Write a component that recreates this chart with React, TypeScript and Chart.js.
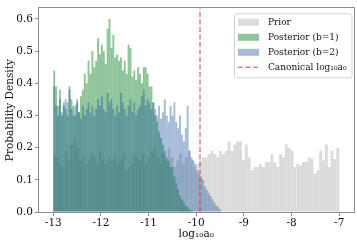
import React, { useEffect, useRef } from "react";
import { Chart, registerables } from "chart.js";

Chart.register(...registerables);

// ---- Data ----
const priorBinStart = -13;
const priorBinWidth = 0.06;
const priorDensity = [
  0.18, 0.17, 0.15, 0.14, 0.19, 0.16, 0.21, 0.22, 0.2, 0.16,
  0.17, 0.15, 0.16, 0.18, 0.17, 0.15, 0.19, 0.16, 0.15, 0.17,
  0.16, 0.17, 0.15, 0.16, 0.18, 0.13, 0.14, 0.15, 0.18, 0.17,
  0.16, 0.18, 0.15, 0.17, 0.19, 0.2, 0.17, 0.15, 0.18, 0.16,
  0.2, 0.17, 0.14, 0.16, 0.18, 0.15, 0.17, 0.19, 0.16, 0.14,
  0.15, 0.16, 0.17, 0.17, 0.18, 0.19, 0.18, 0.17, 0.19, 0.18,
  0.19, 0.22, 0.19, 0.21, 0.22, 0.22, 0.16, 0.21, 0.17, 0.13,
  0.14, 0.14, 0.15, 0.14, 0.155, 0.155, 0.18, 0.155, 0.14, 0.18,
  0.17, 0.21, 0.2, 0.19, 0.14, 0.15, 0.145, 0.155, 0.155, 0.17,
  0.165, 0.12, 0.13, 0.19, 0.16, 0.21, 0.14, 0.19, 0.165, 0.2,
];

const post1BinStart = -13;
const post1BinWidth = 0.04;
const post1Density = [
  0.44, 0.39, 0.33, 0.38, 0.3, 0.34, 0.32, 0.3, 0.39, 0.35,
  0.33, 0.3, 0.34, 0.31, 0.36, 0.38, 0.43, 0.4, 0.47, 0.43,
  0.5, 0.45, 0.47, 0.54, 0.49, 0.52, 0.5, 0.46, 0.57, 0.6,
  0.51, 0.55, 0.48, 0.49, 0.47, 0.48, 0.44, 0.47, 0.43, 0.52,
  0.51, 0.42, 0.44, 0.41, 0.45, 0.43, 0.4, 0.45, 0.45, 0.43,
  0.39, 0.39, 0.34, 0.3, 0.28, 0.25, 0.23, 0.21, 0.19, 0.17,
  0.16, 0.14, 0.14, 0.11, 0.09, 0.07, 0.05, 0.04, 0.03, 0.02,
  0.015, 0.01, 0.005,
];

const post2BinStart = -13;
const post2BinWidth = 0.04;
const post2Density = [
  0.39, 0.33, 0.3, 0.35, 0.31, 0.33, 0.35, 0.34, 0.38, 0.32,
  0.3, 0.33, 0.35, 0.31, 0.29, 0.33, 0.3, 0.32, 0.34, 0.31,
  0.33, 0.3, 0.32, 0.35, 0.33, 0.36, 0.32, 0.31, 0.37, 0.34,
  0.35, 0.32, 0.3, 0.33, 0.31, 0.37, 0.34, 0.32, 0.3, 0.33,
  0.35, 0.31, 0.34, 0.3, 0.32, 0.33, 0.36, 0.38, 0.33, 0.35,
  0.34, 0.32, 0.34, 0.32, 0.3, 0.33, 0.29, 0.31, 0.35, 0.3,
  0.28, 0.33, 0.3, 0.34, 0.28, 0.26, 0.3, 0.24, 0.22, 0.26,
  0.33, 0.19, 0.17, 0.16, 0.15, 0.13, 0.12, 0.11, 0.1, 0.08,
  0.07, 0.06, 0.05, 0.04, 0.03, 0.02, 0.015, 0.008,
];

const canonicalLog10a0 = Math.log10(1.2e-10);

const seriesLabels = ["Prior", "Posterior (b=1)", "Posterior (b=2)", "Canonical log\u2081\u2080a\u2080"];
const xTickValues = [-13, -12, -11, -10, -9, -8, -7];
const yTickValues = [0, 0.1, 0.2, 0.3, 0.4, 0.5, 0.6];
const xRange = [-13.3, -6.7];
const yRange = [0, 0.633];
const xAxisTitle = "log\u2081\u2080a\u2080";
const yAxisTitle = "Probability Density";

// ---- styles ----
const FONT = "DejaVu Serif";
const priorColor = "rgba(190,190,190,0.55)";
const post1Color = "rgba(27,137,49,0.5)";
const post2Color = "rgba(28,88,157,0.4)";
const lineColor = "rgba(220,50,70,0.65)";
const spineColor = "#8c8c8c";
const textColor = "#111111";

function toBins(values: number[], start: number, width: number) {
  return values.map((v, i) => ({ x: start + (i + 0.5) * width, y: v }));
}

const framePlugin = {
  id: "frameBox",
  afterDatasetsDraw(chart: any) {
    const { ctx, chartArea: ca } = chart;
    ctx.save();
    ctx.strokeStyle = spineColor;
    ctx.lineWidth = 1;
    const l = Math.round(ca.left) - 0.5;
    const t = Math.round(ca.top) - 0.5;
    const r = Math.round(ca.right) + 0.5;
    const b = Math.round(ca.bottom) + 0.5;
    ctx.strokeRect(l, t, r - l, b - t);
    ctx.restore();
  },
};

const legendPlugin = {
  id: "boxLegend",
  afterDraw(chart: any) {
    const { ctx, chartArea: ca } = chart;
    const ds = chart.data.datasets;
    ctx.save();
    ctx.font = `9px "${FONT}"`;
    const labels = ds.map((d: any) => d.label as string);
    const textW = Math.max(...labels.map((t: string) => ctx.measureText(t).width));
    const padL = 4, sw = 21, gap = 9, padR = 5, rowH = 15, padT = 9, padB = 10;
    const w = padL + sw + gap + textW + padR;
    const right = ca.right - 2;
    const left = right - w;
    const top = ca.top + 5;
    const h = padT + (labels.length - 1) * rowH + padB;
    ctx.beginPath();
    (ctx as any).roundRect(left + 0.5, top + 0.5, w, h, 2.5);
    ctx.fillStyle = "rgba(255,255,255,0.8)";
    ctx.fill();
    ctx.strokeStyle = "#d4d4d4";
    ctx.lineWidth = 1;
    ctx.stroke();
    labels.forEach((label: string, i: number) => {
      const cy = top + padT + i * rowH;
      const d = ds[i];
      if (d.type === "line") {
        ctx.save();
        ctx.strokeStyle = d.borderColor;
        ctx.lineWidth = d.borderWidth;
        ctx.setLineDash(d.borderDash);
        ctx.beginPath();
        ctx.moveTo(left + padL, cy);
        ctx.lineTo(left + padL + sw, cy);
        ctx.stroke();
        ctx.restore();
      } else {
        ctx.fillStyle = d.backgroundColor;
        ctx.fillRect(left + padL, cy - 3.5, sw, 7);
      }
      ctx.fillStyle = textColor;
      ctx.textBaseline = "middle";
      ctx.textAlign = "left";
      ctx.fillText(label, left + padL + sw + gap, cy + 0.5);
    });
    ctx.restore();
  },
};

export default function App() {
  const ref = useRef<HTMLCanvasElement>(null);

  useEffect(() => {
    if (!ref.current) return;
    const barCommon = {
      barPercentage: 1,
      categoryPercentage: 1,
      grouped: false,
      borderWidth: 0,
      inflateAmount: 0,
      yAxisID: "y",
    };
    const hiddenX = { type: "linear", min: xRange[0], max: xRange[1], display: false, offset: false };
    const chart = new Chart(ref.current, {
      type: "bar",
      data: {
        datasets: [
          { ...barCommon, type: "bar", label: seriesLabels[0], data: toBins(priorDensity, priorBinStart, priorBinWidth), backgroundColor: priorColor, xAxisID: "x", order: 3 },
          { ...barCommon, type: "bar", label: seriesLabels[1], data: toBins(post1Density, post1BinStart, post1BinWidth), backgroundColor: post1Color, xAxisID: "x1", order: 2 },
          { ...barCommon, type: "bar", label: seriesLabels[2], data: toBins(post2Density, post2BinStart, post2BinWidth), backgroundColor: post2Color, xAxisID: "x2", order: 1 },
          {
            type: "line",
            label: seriesLabels[3],
            data: [
              { x: canonicalLog10a0, y: yRange[0] },
              { x: canonicalLog10a0, y: yRange[1] },
            ],
            borderColor: lineColor,
            borderWidth: 1.5,
            borderDash: [5, 2.5],
            pointRadius: 0,
            fill: false,
            xAxisID: "x",
            yAxisID: "y",
            order: 0,
          } as any,
        ],
      },
      options: {
        responsive: false,
        animation: false,
        events: [],
        layout: { padding: { top: 3, right: 3.5, left: 0, bottom: 0 } },
        plugins: { legend: { display: false }, tooltip: { enabled: false } },
        scales: {
          x: {
            type: "linear",
            position: "bottom",
            min: xRange[0],
            max: xRange[1],
            offset: false,
            grid: { display: true, drawOnChartArea: false, drawTicks: true, tickLength: 4, color: spineColor, offset: false },
            border: { display: false },
            ticks: {
              font: { family: FONT, size: 10.5 },
              color: textColor,
              padding: 1,
              autoSkip: false,
              maxRotation: 0,
              includeBounds: false,
              callback: (v: any) => String(v),
            },
            afterBuildTicks: (s: any) => {
              s.ticks = xTickValues.map((v) => ({ value: v }));
            },
            afterFit: (s: any) => {
              s.height = 32;
            },
            title: { display: true, text: xAxisTitle, font: { family: FONT, size: 10.5 }, color: textColor, padding: { top: 0, bottom: 3 } },
          },
          x1: hiddenX as any,
          x2: hiddenX as any,
          y: {
            type: "linear",
            min: yRange[0],
            max: yRange[1],
            grid: { display: true, drawOnChartArea: false, drawTicks: true, tickLength: 4, color: spineColor },
            border: { display: false },
            ticks: {
              font: { family: FONT, size: 10.5 },
              color: textColor,
              padding: 2,
              includeBounds: false,
              callback: (v: any) => Number(v).toFixed(1),
            },
            afterBuildTicks: (s: any) => {
              s.ticks = yTickValues.map((v) => ({ value: v }));
            },
            afterFit: (s: any) => {
              s.width = 39;
            },
            title: { display: true, text: yAxisTitle, font: { family: FONT, size: 10.5 }, color: textColor, padding: { top: 4, bottom: 0 } },
          },
        },
      } as any,
      plugins: [framePlugin, legendPlugin],
    });
    return () => chart.destroy();
  }, []);

  return (
    <div style={{ position: "absolute", left: 0, top: 0, width: 357, height: 244 }}>
      <canvas ref={ref} width={357} height={244} style={{ display: "block", width: 357, height: 244 }} />
    </div>
  );
}
